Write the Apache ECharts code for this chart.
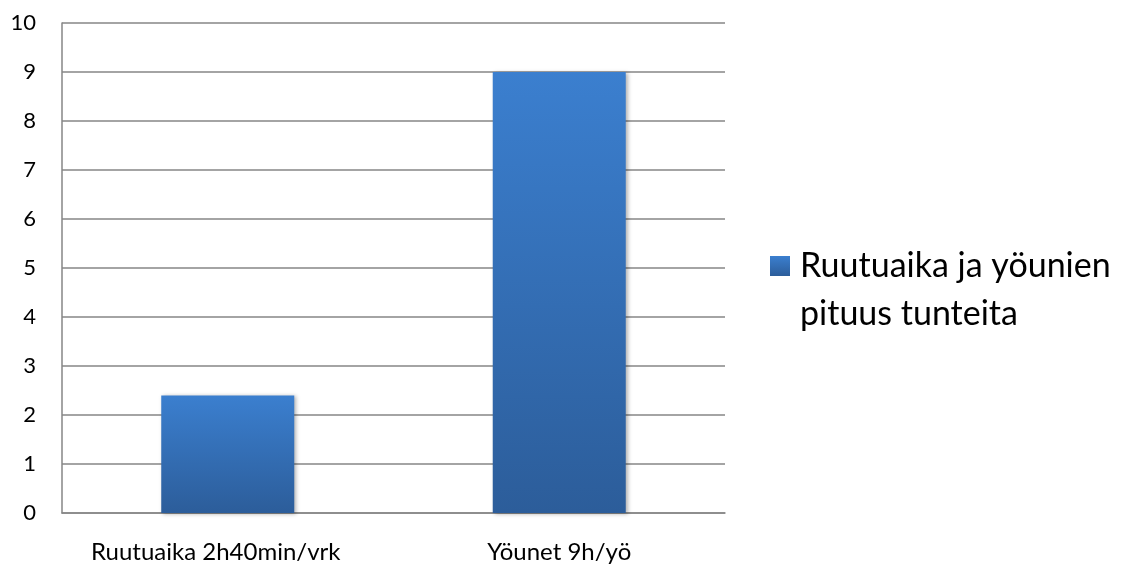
<!DOCTYPE html>
<html>
<head>
<meta charset="utf-8">
<script src="https://cdn.jsdelivr.net/npm/echarts@6/dist/echarts.min.js"></script>
<style>
  html, body { margin: 0; padding: 0; background: #fff; }
  #chart { width: 1124px; height: 564px; }
</style>
</head>
<body>
<div id="chart"></div>
<script>
// Screen time and night sleep, in hours
const categories = ['Ruutuaika 2h40min/vrk', 'Yöunet 9h/yö'];
const hours = [2.4, 9];
const seriesName = 'Ruutuaika ja yöunien\npituus tunteita';
const yTicks = { min: 0, max: 10, interval: 1 };

const barFill = new echarts.graphic.LinearGradient(0, 0, 0, 1, [
  { offset: 0, color: '#3b7fcf' },
  { offset: 1, color: '#2c5d9a' }
]);

// Legend swatch: square at the top of a tall box, so it lines up with the first text line
const swatch = 'path://M0,0H20V20H0Z M20,68L20,68';
// the swatch fills only the top 20/68 of its box, so the gradient spans that part
const swatchFill = new echarts.graphic.LinearGradient(0, 0, 0, 20 / 68, [
  { offset: 0, color: '#3b7fcf' },
  { offset: 1, color: '#2c5d9a' }
]);

const chart = echarts.init(document.getElementById('chart'), null, { renderer: 'canvas' });
chart.setOption({
  animation: false,
  textStyle: { fontFamily: 'Lato, "Open Sans", sans-serif' },
  grid: { left: 62, right: 399, top: 23, bottom: 51, containLabel: false },
  legend: {
    left: 765,
    top: 237,
    orient: 'vertical',
    itemWidth: 20,
    itemHeight: 68,
    icon: swatch,
    data: [{ name: seriesName, itemStyle: { color: swatchFill } }],
    textStyle: {
      fontSize: 34,
      color: '#000',
      lineHeight: 48,
      padding: [0, 0, 0, 5]
    }
  },
  xAxis: {
    type: 'category',
    data: categories,
    axisLine: { lineStyle: { color: '#868686', width: 1.5 } },
    axisTick: { show: false },
    axisLabel: {
      interval: 0,
      hideOverlap: false,
      color: '#000',
      fontSize: 24,
      margin: 27,
      formatter: (value, index) => index === 0 ? '{wide|' + value + '}' : value,
      rich: { wide: { fontSize: 24, padding: [0, 24, 0, 0] } }
    }
  },
  yAxis: {
    type: 'value',
    min: yTicks.min,
    max: yTicks.max,
    interval: yTicks.interval,
    axisLine: { show: true, lineStyle: { color: '#868686', width: 1.5 } },
    axisTick: { show: false },
    axisLabel: { color: '#000', fontSize: 22, margin: 26 },
    splitLine: { lineStyle: { color: '#868686', width: 1.5 } }
  },
  series: [{
    name: seriesName,
    type: 'bar',
    data: hours,
    barWidth: 133,
    itemStyle: {
      color: barFill,
      shadowBlur: 4,
      shadowColor: 'rgba(0,0,0,0.3)',
      shadowOffsetX: 2,
      shadowOffsetY: 1
    }
  }]
});
</script>
</body>
</html>
